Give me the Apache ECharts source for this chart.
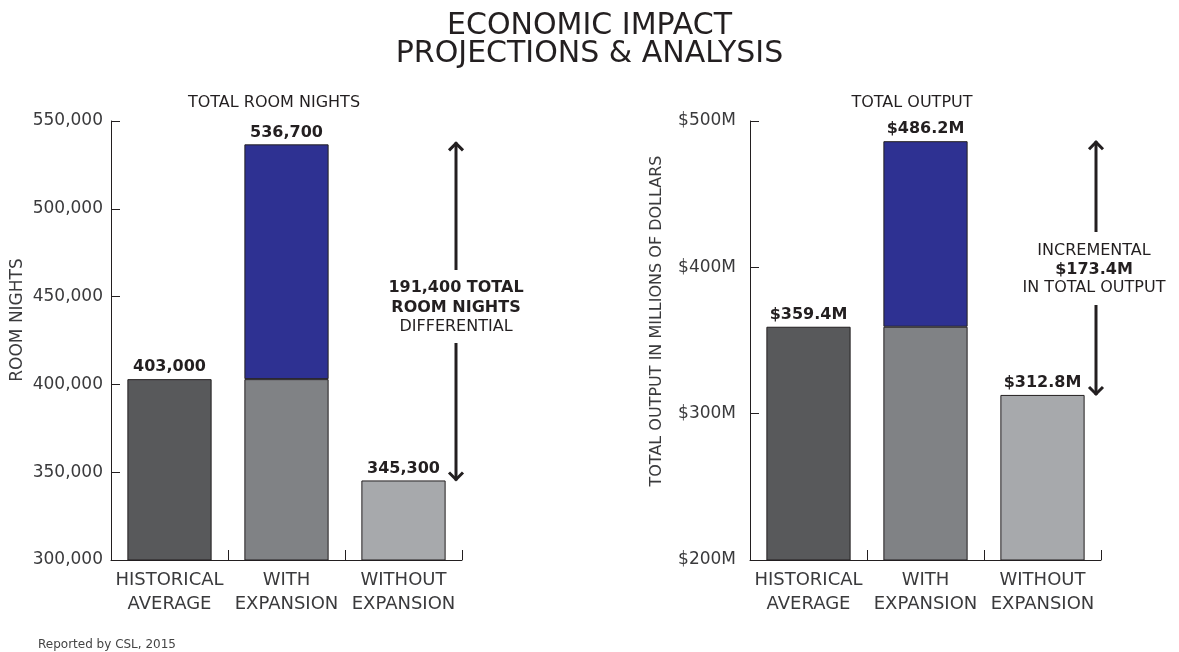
<!DOCTYPE html>
<html>
<head>
<meta charset="utf-8">
<script src="https://cdn.jsdelivr.net/npm/echarts@6/dist/echarts.min.js"></script>
<style>
html,body{margin:0;padding:0;background:#fff;}
#chart{width:1179px;height:652px;}
</style>
</head>
<body>
<div id="chart"></div>
<script>
const categories = ['HISTORICAL\nAVERAGE', 'WITH\nEXPANSION', 'WITHOUT\nEXPANSION'];
const roomNightsBase = [403000, 403000, 345300];
const roomNightsTotal = [403000, 536700, 345300];
const outputBase = [359.4, 359.4, 312.8];
const outputTotal = [359.4, 486.2, 312.8];
const roomNote = ['191,400 TOTAL', 'ROOM NIGHTS', 'DIFFERENTIAL'];
const roomNoteBold = [true, true, false];
const outputNote = ['INCREMENTAL', '$173.4M', 'IN TOTAL OUTPUT'];
const outputNoteBold = [false, true, false];

const FONT = 'DejaVu Sans';
const INK = '#231f20';
const TXT = '#3a3a3c';
const baseColors = ['#58595b', '#808285', '#a7a9ac'];
const topColor = '#2e3192';

const fmtRooms = v => v.toLocaleString('en-US');
const fmtOut = v => '$' + v.toFixed(1) + 'M';

function baseData(base, total, fmt) {
  return base.map((v, i) => ({
    value: v,
    itemStyle: { color: baseColors[i] },
    label: { show: total[i] === base[i], formatter: () => fmt(total[i]) }
  }));
}
function topData(base, total, fmt) {
  return base.map((v, i) => total[i] > v ? {
    value: +(total[i] - v).toFixed(4),
    label: { show: true, formatter: () => fmt(total[i]) }
  } : '-');
}

const labelStyle = { position: 'top', distance: 4, color: INK, fontFamily: FONT, fontWeight: 'bold', fontSize: 16 };
const barBorder = { borderColor: INK, borderWidth: 1 };

function xAxis(gi) {
  return {
    type: 'category', gridIndex: gi, data: categories,
    axisLine: { show: true, onZero: false, lineStyle: { color: INK, width: 1 } },
    axisTick: { show: true, inside: true, alignWithLabel: false, interval: 0, length: 10, lineStyle: { color: INK, width: 1 } },
    axisLabel: { color: TXT, fontFamily: FONT, fontSize: 18, lineHeight: 24, margin: 8, interval: 0 }
  };
}
function yAxis(gi, min, max, interval, fmt, margin) {
  return {
    type: 'value', gridIndex: gi, min, max, interval,
    axisLine: { show: true, lineStyle: { color: INK, width: 1 } },
    axisTick: { show: true, inside: true, length: 9, lineStyle: { color: INK } },
    splitLine: { show: false },
    axisLabel: { color: TXT, fontFamily: FONT, fontSize: 17, margin, formatter: fmt }
  };
}

const chart = echarts.init(document.getElementById('chart'));
chart.setOption({
  animation: false,
  backgroundColor: '#fff',
  title: [
    { text: 'ECONOMIC IMPACT\nPROJECTIONS & ANALYSIS', left: 'center', top: 7,
      textStyle: { fontFamily: FONT, fontWeight: 'normal', fontSize: 30, lineHeight: 28, color: INK } },
    { text: 'TOTAL ROOM NIGHTS', left: 269, top: 90, textAlign: 'center',
      textStyle: { fontFamily: FONT, fontWeight: 'normal', fontSize: 16, color: INK } },
    { text: 'TOTAL OUTPUT', left: 907, top: 90, textAlign: 'center',
      textStyle: { fontFamily: FONT, fontWeight: 'normal', fontSize: 16, color: INK } }
  ],
  grid: [
    { left: 111, top: 121, width: 351, height: 439 },
    { left: 750, top: 121, width: 351, height: 439 }
  ],
  xAxis: [xAxis(0), xAxis(1)],
  yAxis: [
    yAxis(0, 300000, 550000, 50000, fmtRooms, 8),
    yAxis(1, 200, 500, 100, v => '$' + v + 'M', 14)
  ],
  series: [
    { type: 'bar', xAxisIndex: 0, yAxisIndex: 0, stack: 'a', barWidth: '72%',
      data: baseData(roomNightsBase, roomNightsTotal, fmtRooms), itemStyle: barBorder, label: labelStyle },
    { type: 'bar', xAxisIndex: 0, yAxisIndex: 0, stack: 'a', barWidth: '72%',
      data: topData(roomNightsBase, roomNightsTotal, fmtRooms), itemStyle: Object.assign({ color: topColor }, barBorder), label: labelStyle },
    { type: 'bar', xAxisIndex: 1, yAxisIndex: 1, stack: 'b', barWidth: '72%',
      data: baseData(outputBase, outputTotal, fmtOut), itemStyle: barBorder, label: labelStyle },
    { type: 'bar', xAxisIndex: 1, yAxisIndex: 1, stack: 'b', barWidth: '72%',
      data: topData(outputBase, outputTotal, fmtOut), itemStyle: Object.assign({ color: topColor }, barBorder), label: labelStyle }
  ]
});

function arrow(x, yTop, yBot, gapTop, gapBot) {
  const ls = { stroke: INK, lineWidth: 3 };
  return [
    { type: 'line', shape: { x1: x, y1: yTop, x2: x, y2: gapTop }, style: ls },
    { type: 'line', shape: { x1: x, y1: gapBot, x2: x, y2: yBot }, style: ls },
    { type: 'polyline', shape: { points: [[x - 7, yTop + 8], [x, yTop + 1], [x + 7, yTop + 8]] }, style: Object.assign({ fill: null }, ls) },
    { type: 'polyline', shape: { points: [[x - 7, yBot - 8], [x, yBot - 1], [x + 7, yBot - 8]] }, style: Object.assign({ fill: null }, ls) }
  ];
}
function note(lines, bold, x, y0, step) {
  return lines.map((t, i) => ({
    type: 'text', x, y: y0 + i * step,
    style: { text: t, fill: INK, font: (bold[i] ? 'bold 16px ' : '16px ') + FONT, textAlign: 'center', textVerticalAlign: 'middle' }
  }));
}

const yL = v => chart.convertToPixel({ yAxisIndex: 0 }, v);
const yR = v => chart.convertToPixel({ yAxisIndex: 1 }, v);
const lTop = yL(roomNightsTotal[1]), lBot = yL(roomNightsTotal[2]);
const rTop = yR(outputTotal[1]), rBot = yR(outputTotal[2]);

const graphics = [].concat(
  arrow(456, lTop - 2, lBot, 270, 343),
  note(roomNote, roomNoteBold, 456, 288, 19.5),
  arrow(1096, rTop, rBot, 232, 305),
  note(outputNote, outputNoteBold, 1094, 251, 18.5),
  [
    { type: 'text', x: 18, y: 320, rotation: Math.PI / 2,
      style: { text: 'ROOM NIGHTS', fill: TXT, font: '17px ' + FONT, textAlign: 'center', textVerticalAlign: 'middle' } },
    { type: 'text', x: 657, y: 321, rotation: Math.PI / 2,
      style: { text: 'TOTAL OUTPUT IN MILLIONS OF DOLLARS', fill: TXT, font: '16px ' + FONT, textAlign: 'center', textVerticalAlign: 'middle' } },
    { type: 'text', x: 38, y: 645,
      style: { text: 'Reported by CSL, 2015', fill: '#444', font: '12px ' + FONT, textAlign: 'left', textVerticalAlign: 'middle' } }
  ]
);
chart.setOption({ graphic: graphics });
</script>
</body>
</html>
